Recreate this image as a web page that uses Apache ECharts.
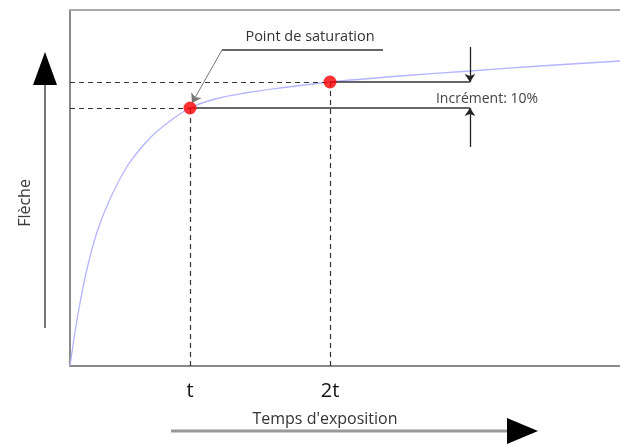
<!DOCTYPE html>
<html>
<head>
<meta charset="utf-8">
<script src="https://cdn.jsdelivr.net/npm/echarts@6/dist/echarts.min.js"></script>
<style>html,body{margin:0;padding:0;background:#fff}#c{width:620px;height:444px}</style>
</head>
<body>
<div id="c"></div>
<script>
// Curve (schematic units)
const curveX = [0, 5, 10, 17, 27, 40, 58, 80, 100, 120, 145, 175, 210, 260, 330, 400, 470, 550];
const curveY = [0, 34, 63, 97, 134, 167, 201, 228, 245, 258, 267, 273, 278, 284, 290, 295, 300, 305];
// Key points: saturation (t) and 2t
const dotX = [120, 260];
const dotY = [258, 284];
const tickValues = [120, 260];
const tickLabels = ['t', '2t'];
const incrementX = 400;          // position of increment arrows
const incrementArrowEnds = [319, 219]; // outer ends of the two arrows
const satLabel = 'Point de saturation';
const satLabelPos = [240, 329];
const satUnderline = [152, 313, 316]; // x start, x end, y
const satLeaderEnd = [122, 263];
const incLabel = 'Incrément: 10%';
const incLabelPos = [417, 267];
const yName = 'Flèche';
const xName = "Temps d'exposition";

const FONT = '"Open Sans", Lato, sans-serif';
const curveData = curveX.map((x, i) => [x, curveY[i]]);
const dots = dotX.map((x, i) => [x, dotY[i]]);

const chart = echarts.init(document.getElementById('c'), null, {renderer: 'canvas'});
const dashStyle = {type: [5, 4], color: '#333', width: 1.2};
const solidStyle = {type: 'solid', color: '#333', width: 1.5};

chart.setOption({
  animation: false,
  backgroundColor: '#fff',
  grid: {left: 70, right: 0, top: 10, bottom: 78},
  xAxis: [{
    type: 'value', min: 0, max: 550, position: 'bottom',
    axisLine: {show: true, lineStyle: {color: '#8a8a8a', width: 2}},
    axisTick: {show: false},
    splitLine: {show: false},
    axisLabel: {
      show: true, customValues: tickValues, margin: 15,
      fontSize: 20, color: '#111', fontFamily: FONT,
      formatter: v => tickLabels[tickValues.indexOf(v)] || ''
    }
  }, {
    type: 'value', min: 0, max: 550, position: 'top',
    axisLine: {show: true, lineStyle: {color: '#a8a8a8', width: 2}},
    axisTick: {show: false}, splitLine: {show: false}, axisLabel: {show: false}
  }],
  yAxis: {
    type: 'value', min: 0, max: 356,
    axisLine: {show: true, lineStyle: {color: '#8a8a8a', width: 2}},
    axisTick: {show: false}, splitLine: {show: false}, axisLabel: {show: false}
  },
  series: [
    {
      type: 'line', name: 'dashed', data: [], silent: true,
      markLine: {
        silent: true, symbol: ['none', 'none'], label: {show: false},
        lineStyle: dashStyle, emphasis: {disabled: true},
        data: [
          [{coord: [0, dotY[0]]}, {coord: [dotX[0], dotY[0]]}],
          [{coord: [0, dotY[1]]}, {coord: [dotX[1], dotY[1]]}],
          [{coord: [dotX[0], 0]}, {coord: [dotX[0], dotY[0]]}],
          [{coord: [dotX[1], 0]}, {coord: [dotX[1], dotY[1]]}]
        ]
      }
    },
    {
      type: 'line', name: 'solid', data: [], silent: true,
      markLine: {
        silent: true, symbol: ['none', 'none'], label: {show: false},
        lineStyle: solidStyle, emphasis: {disabled: true},
        data: [
          [{coord: [dotX[0], dotY[0]]}, {coord: [incrementX, dotY[0]]}],
          [{coord: [dotX[1], dotY[1]]}, {coord: [incrementX, dotY[1]]}],
          [{coord: [satUnderline[0], satUnderline[2]]}, {coord: [satUnderline[1], satUnderline[2]]}]
        ]
      }
    },
    {
      type: 'line', name: 'arrows', data: [], silent: true,
      markLine: {
        silent: true, symbol: ['none', 'arrow'], symbolSize: 8, label: {show: false},
        lineStyle: {type: 'solid', color: '#222', width: 1.3}, emphasis: {disabled: true},
        data: [
          [{coord: [incrementX, incrementArrowEnds[0]]}, {coord: [incrementX, dotY[1]]}],
          [{coord: [incrementX, incrementArrowEnds[1]]}, {coord: [incrementX, dotY[0]]}]
        ]
      }
    },
    {
      type: 'line', name: 'leader', data: [], silent: true,
      markLine: {
        silent: true, symbol: ['none', 'arrow'], symbolSize: 9, label: {show: false},
        lineStyle: {type: 'solid', color: '#777', width: 1}, emphasis: {disabled: true},
        itemStyle: {color: '#111'},
        data: [
          [{coord: [satUnderline[0], satUnderline[2]]}, {coord: satLeaderEnd}]
        ]
      },
      markPoint: {
        silent: true, symbol: 'circle', symbolSize: 0,
        data: [
          {coord: satLabelPos, label: {show: true, position: 'inside', formatter: satLabel,
            fontSize: 14.5, color: '#333', fontFamily: FONT}},
          {coord: incLabelPos, label: {show: true, position: 'inside', formatter: incLabel,
            fontSize: 14, color: '#444', fontFamily: FONT}}
        ]
      }
    },
    {
      type: 'line', name: 'Flèche', data: curveData, smooth: 0.35,
      showSymbol: false, silent: true,
      lineStyle: {color: '#b4b4ff', width: 1.3}
    },
    {
      type: 'scatter', name: 'points', data: dots, symbolSize: 13, silent: true,
      itemStyle: {color: '#ff0000'}, z: 5
    }
  ],
  graphic: [
    {type: 'line', shape: {x1: 45, y1: 84, x2: 45, y2: 328}, style: {stroke: '#777', lineWidth: 2}},
    {type: 'polygon', shape: {points: [[45, 52], [33, 85], [57, 85]]}, style: {fill: '#000'}},
    {type: 'line', shape: {x1: 171, y1: 431, x2: 508, y2: 431}, style: {stroke: '#999', lineWidth: 3}},
    {type: 'polygon', shape: {points: [[538, 431], [507, 418], [507, 444]]}, style: {fill: '#000'}},
    {type: 'text', x: 25, y: 203, rotation: Math.PI / 2,
      style: {text: yName, fontSize: 16, fill: '#3a3a3a', fontFamily: FONT, align: 'center', verticalAlign: 'middle'}},
    {type: 'text', x: 325, y: 419,
      style: {text: xName, fontSize: 16, fill: '#333', fontFamily: FONT, align: 'center', verticalAlign: 'middle'}}
  ]
});
</script>
</body>
</html>
